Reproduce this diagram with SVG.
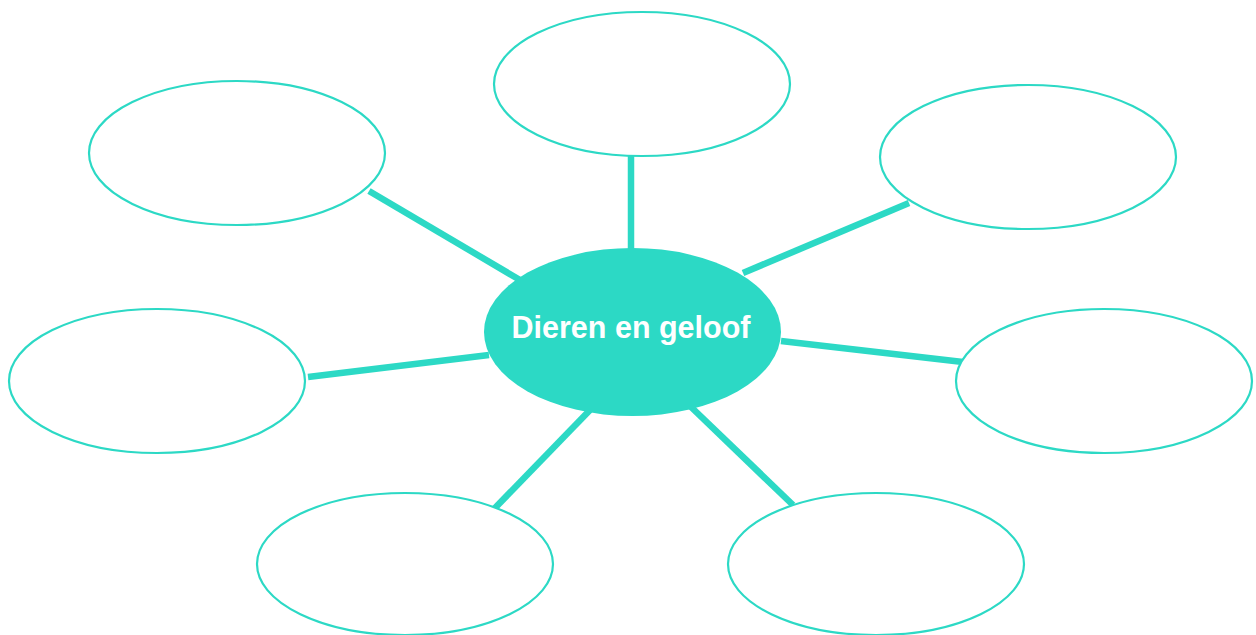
<svg xmlns="http://www.w3.org/2000/svg" width="1256" height="635" viewBox="0 0 1256 635">
<style>
.leaf{fill:#fff;stroke:#2cd9c5;stroke-width:2.2}
.con{stroke:#2cd9c5;stroke-width:6.5;stroke-linecap:butt;fill:none}
.t{font-family:"Liberation Sans",Arial,sans-serif;font-weight:bold;font-size:30.5px;fill:#fff}
</style>
<rect width="1256" height="635" fill="#fff"/>
<g id="connectors">
<line class="con" x1="631" y1="156" x2="631" y2="250"/>
<line class="con" x1="369" y1="191" x2="520" y2="280"/>
<line class="con" x1="743" y1="273" x2="909" y2="203"/>
<line class="con" x1="308" y1="377" x2="489" y2="355"/>
<line class="con" x1="781" y1="341" x2="963" y2="362"/>
<line class="con" x1="494" y1="509" x2="590" y2="410"/>
<line class="con" x1="690" y1="406" x2="793" y2="505"/>
</g>
<g id="n-top"><ellipse class="leaf" cx="642" cy="84" rx="148" ry="72"/></g>
<g id="n-tl"><ellipse class="leaf" cx="237" cy="153" rx="148" ry="72"/></g>
<g id="n-tr"><ellipse class="leaf" cx="1028" cy="157" rx="148" ry="72"/></g>
<g id="n-l"><ellipse class="leaf" cx="157" cy="381" rx="148" ry="72"/></g>
<g id="n-r"><ellipse class="leaf" cx="1104" cy="381" rx="148" ry="72"/></g>
<g id="n-bl"><ellipse class="leaf" cx="405" cy="564" rx="148" ry="71"/></g>
<g id="n-br"><ellipse class="leaf" cx="876" cy="564" rx="148" ry="71"/></g>
<g id="center">
<ellipse cx="632.5" cy="332" rx="148.5" ry="84" fill="#2cd9c5"/>
<text class="t" x="631" y="338" text-anchor="middle">Dieren en geloof</text>
</g>
</svg>
